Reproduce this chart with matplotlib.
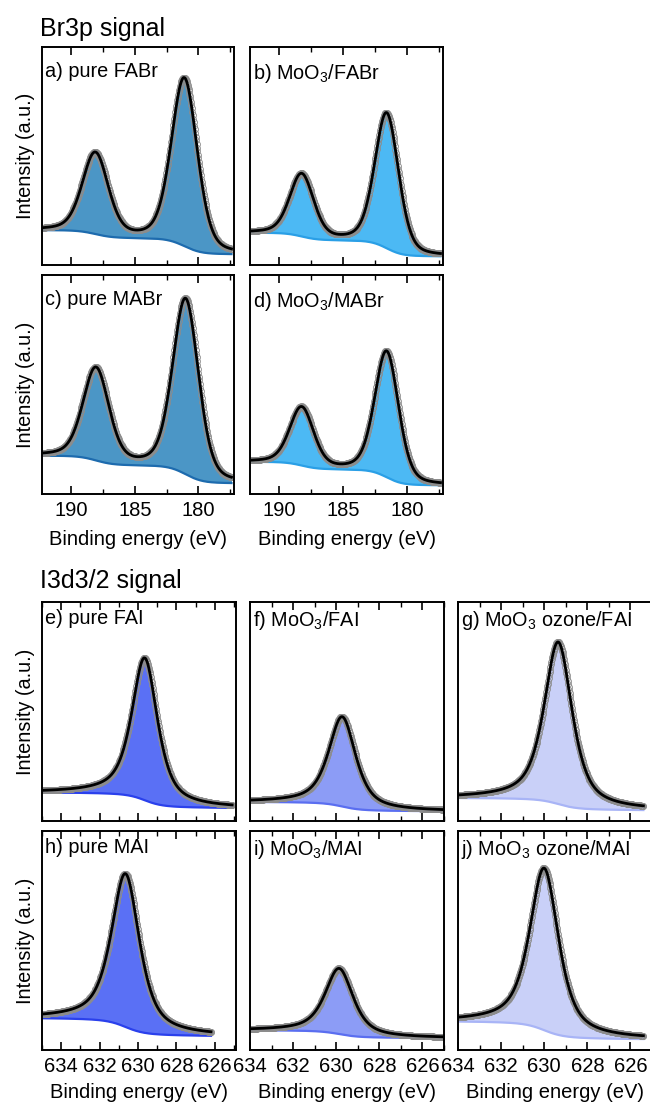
import numpy as np
import matplotlib
matplotlib.use('Agg')
import matplotlib.pyplot as plt
from matplotlib.ticker import MultipleLocator

plt.rcParams['font.family'] = ['Liberation Sans', 'DejaVu Sans']
plt.rcParams['mathtext.fontset'] = 'custom'
plt.rcParams['mathtext.rm'] = 'Liberation Sans'
plt.rcParams['mathtext.default'] = 'regular'

# Br3p panels (a-d): two peaks each, intensities in panel-height units
br_labels = ['a) pure FABr', 'b) MoO$_3$/FABr', 'c) pure MABr', 'd) MoO$_3$/MABr']
br_p1_pos = [188.1, 188.25, 188.05, 188.25]
br_p1_amp = [0.37, 0.285, 0.42, 0.265]
br_p2_pos = [181.1, 181.6, 181.0, 181.6]
br_p2_amp = [0.77, 0.62, 0.80, 0.575]
br_fwhm = [2.4, 2.2, 2.4, 2.2]
br_bg_high = [0.16, 0.148, 0.175, 0.147]
br_bg_low = [0.05, 0.04, 0.05, 0.04]
br_range = (192.2, 177.4)
br_fill = ['#4b96c6', '#4cb9f4', '#4b96c6', '#4cb9f4']
br_edge = ['#1d6bae', '#2a9fe6', '#1d6bae', '#2a9fe6']

# I3d3/2 panels (e-j): one peak each
i_labels = ['e) pure FAI', 'f) MoO$_3$/FAI', 'g) MoO$_3$ ozone/FAI',
            'h) pure MAI', 'i) MoO$_3$/MAI', 'j) MoO$_3$ ozone/MAI']
i_pos = [629.65, 629.72, 629.35, 630.65, 629.86, 630.0]
i_amp = [0.65, 0.41, 0.74, 0.70, 0.30, 0.74]
i_fwhm = [1.6, 1.5, 1.55, 1.75, 1.55, 1.6]
i_bg_high = [0.13, 0.087, 0.105, 0.145, 0.09, 0.13]
i_bg_low = [0.06, 0.045, 0.05, 0.065, 0.055, 0.05]
i_data_range = [(635.0, 625.1), (634.0, 625.0), (634.0, 625.4),
                (635.0, 626.2), (634.0, 625.0), (634.0, 625.4)]
i_xlim = [(635.0, 624.9), (634.0, 625.0), (634.0, 625.0),
          (635.0, 624.9), (634.0, 625.0), (634.0, 625.0)]
i_fill = ['#5a70f5', '#8c9cf6', '#c9d0f8', '#5a70f5', '#8c9cf6', '#c9d0f8']
i_edge = ['#2a40ec', '#5a6ef0', '#a8b4f6', '#2a40ec', '#5a6ef0', '#a8b4f6']


def pvoigt(x, pos, amp, fwhm, eta):
    hw = fwhm / 2
    g = np.exp(-np.log(2) * ((x - pos) / hw) ** 2)
    l = 1 / (1 + ((x - pos) / hw) ** 2)
    return amp * (eta * l + (1 - eta) * g)


def shirley(x, peaks, high, low):
    # x descending (high BE first); background rises towards high BE
    xs = x[::-1]
    ps = peaks[::-1]
    cum = np.concatenate([[0], np.cumsum(0.5 * (ps[1:] + ps[:-1]) * np.diff(xs))])
    cum = cum / cum[-1]
    return (low + (high - low) * cum)[::-1]


def draw(ax, x, comps, high, low, fill, edge):
    peaks = sum(comps)
    bg = shirley(x, peaks, high, low)
    env = bg + peaks
    ax.fill_between(x, bg, env, color=fill, lw=0)
    ax.plot(x, bg, color=edge, lw=1.6)
    ax.plot(x, env, 'o', ms=4.3, mfc='none', mec='0.55', mew=0.6)
    ax.plot(x, env, color='black', lw=2)


def style(ax, major, minor, labels):
    ax.xaxis.set_major_locator(MultipleLocator(major))
    ax.xaxis.set_minor_locator(MultipleLocator(minor))
    ax.tick_params(axis='x', which='major', direction='in', top=True, bottom=True,
                   length=6, width=1.2, labelsize=14.5, pad=5, labelbottom=labels)
    ax.tick_params(axis='x', which='minor', direction='in', top=True, bottom=True,
                   length=3.5, width=1.0)
    ax.tick_params(axis='y', left=False, right=False, labelleft=False)
    for s in ax.spines.values():
        s.set_linewidth(1.4)
    ax.set_ylim(0, 1)


W, H = 650, 1103
fig = plt.figure(figsize=(W / 100, H / 100), dpi=100)


def add_axes(x0, x1, y0, y1):
    return fig.add_axes([x0 / W, 1 - y1 / H, (x1 - x0) / W, (y1 - y0) / H])


fig.text(40 / W, 1 - 29 / H, 'Br3p signal', fontsize=18, va='center', ha='left')
fig.text(40 / W, 1 - 581 / H, 'I3d3/2 signal', fontsize=18, va='center', ha='left')

br_boxes = [(42, 234, 47, 265), (250, 443, 47, 265), (42, 234, 275, 494), (250, 443, 275, 494)]
for k, box in enumerate(br_boxes):
    ax = add_axes(*box)
    x = np.linspace(br_range[0], br_range[1], 400)
    comps = [pvoigt(x, br_p1_pos[k], br_p1_amp[k], br_fwhm[k], 0.3),
             pvoigt(x, br_p2_pos[k], br_p2_amp[k], br_fwhm[k], 0.3)]
    draw(ax, x, comps, br_bg_high[k], br_bg_low[k], br_fill[k], br_edge[k])
    ax.set_xlim(192.3, 177.2)
    style(ax, 5, 2.5, k >= 2)
    ax.text(0.018, 0.93, br_labels[k], transform=ax.transAxes, fontsize=14.3, va='top')
    if k % 2 == 0:
        ax.set_ylabel('Intensity (a.u.)', fontsize=14.3, labelpad=5)
    if k >= 2:
        ax.set_xlabel('Binding energy (eV)', fontsize=14.5, labelpad=7)

i_boxes = [(42, 236, 602, 821), (250, 444, 602, 821), (458, 652, 602, 821),
           (42, 236, 831, 1050), (250, 444, 831, 1050), (458, 652, 831, 1050)]
for k, box in enumerate(i_boxes):
    ax = add_axes(*box)
    x = np.linspace(i_data_range[k][0], i_data_range[k][1], 400)
    comps = [pvoigt(x, i_pos[k], i_amp[k], i_fwhm[k], 0.7)]
    draw(ax, x, comps, i_bg_high[k], i_bg_low[k], i_fill[k], i_edge[k])
    ax.set_xlim(*i_xlim[k])
    style(ax, 2, 1, k >= 3)
    ax.text(0.018, 0.97, i_labels[k], transform=ax.transAxes, fontsize=14.3, va='top')
    if k % 3 == 0:
        ax.set_ylabel('Intensity (a.u.)', fontsize=14.3, labelpad=5)
    if k >= 3:
        ax.set_xlabel('Binding energy (eV)', fontsize=14.5, labelpad=5)

fig.savefig('out.png', dpi=100)
